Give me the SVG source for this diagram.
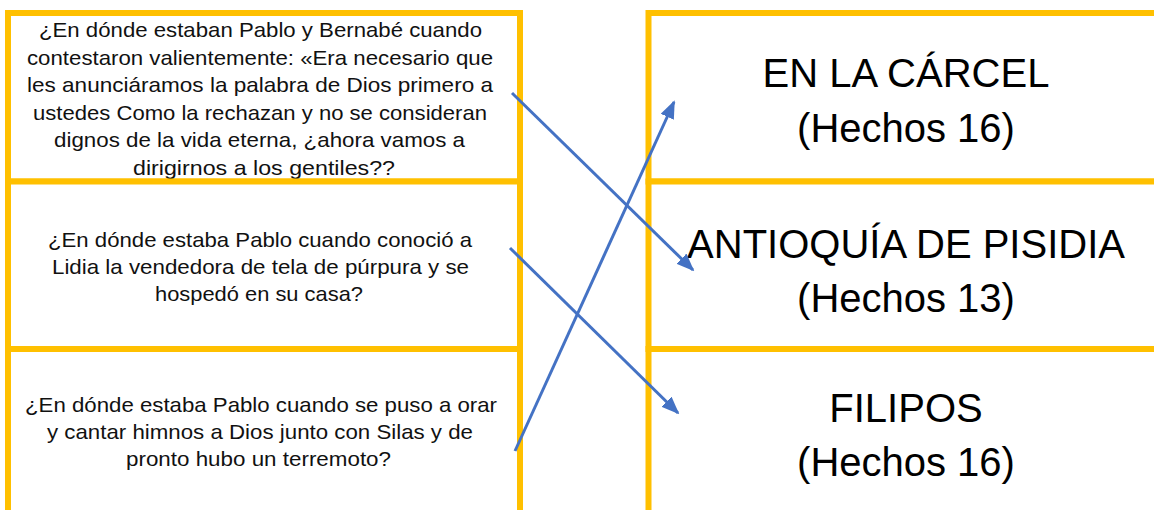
<svg xmlns="http://www.w3.org/2000/svg" width="1154" height="510" viewBox="0 0 1154 510">
<defs>
<style>
.box{fill:#FFFFFF;stroke:#FFC000;stroke-width:6}
.q{font-family:"Liberation Sans",Arial,sans-serif;font-size:21px;fill:#111111;text-anchor:middle}
.a{font-family:"Liberation Sans",Arial,sans-serif;font-size:40px;fill:#000000;text-anchor:middle}
.conn{stroke:#4472C4;stroke-width:3;fill:none;marker-end:url(#arr)}
</style>
<marker id="arr" viewBox="0 0 10 8" refX="9" refY="4" markerWidth="6" markerHeight="4.8" orient="auto" markerUnits="strokeWidth">
<path d="M0,0 L10,4 L0,8 z" fill="#4472C4"/>
</marker>
</defs>
<rect width="1154" height="510" fill="#FFFFFF"/>
<g id="q1">
<rect class="box" x="8" y="13" width="512" height="168.5"/>
<text class="q" x="260.5" y="37" textLength="443" lengthAdjust="spacingAndGlyphs">¿En dónde estaban Pablo y Bernabé cuando</text>
<text class="q" x="260" y="64.5" textLength="466" lengthAdjust="spacingAndGlyphs">contestaron valientemente: «Era necesario que</text>
<text class="q" x="260" y="92" textLength="466" lengthAdjust="spacingAndGlyphs">les anunciáramos la palabra de Dios primero a</text>
<text class="q" x="260" y="119.5" textLength="454" lengthAdjust="spacingAndGlyphs">ustedes Como la rechazan y no se consideran</text>
<text class="q" x="259.5" y="147" textLength="411" lengthAdjust="spacingAndGlyphs">dignos de la vida eterna, ¿ahora vamos a</text>
<text class="q" x="264" y="174.5" textLength="262" lengthAdjust="spacingAndGlyphs">dirigirnos a los gentiles??</text>
</g>
<g id="q2">
<rect class="box" x="8" y="181.5" width="512" height="167.5"/>
<text class="q" x="260" y="247" textLength="424" lengthAdjust="spacingAndGlyphs">¿En dónde estaba Pablo cuando conoció a</text>
<text class="q" x="260.5" y="274" textLength="417" lengthAdjust="spacingAndGlyphs">Lidia la vendedora de tela de púrpura y se</text>
<text class="q" x="259" y="301" textLength="208" lengthAdjust="spacingAndGlyphs">hospedó en su casa?</text>
</g>
<g id="q3">
<rect class="box" x="8" y="349" width="512" height="170"/>
<text class="q" x="261" y="412" textLength="472" lengthAdjust="spacingAndGlyphs">¿En dónde estaba Pablo cuando se puso a orar</text>
<text class="q" x="260" y="439" textLength="426" lengthAdjust="spacingAndGlyphs">y cantar himnos a Dios junto con Silas y de</text>
<text class="q" x="258.5" y="466" textLength="265" lengthAdjust="spacingAndGlyphs">pronto hubo un terremoto?</text>
</g>
<g id="a1">
<rect class="box" x="648.5" y="13" width="512" height="168.5"/>
<text class="a" x="906" y="87">EN LA CÁRCEL</text>
<text class="a" x="906" y="142">(Hechos 16)</text>
</g>
<g id="a2">
<rect class="box" x="648.5" y="181.5" width="512" height="167.5"/>
<text class="a" x="906" y="258">ANTIOQUÍA DE PISIDIA</text>
<text class="a" x="906" y="312">(Hechos 13)</text>
</g>
<g id="a3">
<rect class="box" x="648.5" y="349" width="512" height="170"/>
<text class="a" x="906" y="422">FILIPOS</text>
<text class="a" x="906" y="476">(Hechos 16)</text>
</g>
<g id="connectors">
<line class="conn" x1="512" y1="93" x2="693" y2="270"/>
<line class="conn" x1="510" y1="248" x2="678" y2="413"/>
<line class="conn" x1="515" y1="451" x2="674" y2="102"/>
</g>
</svg>
